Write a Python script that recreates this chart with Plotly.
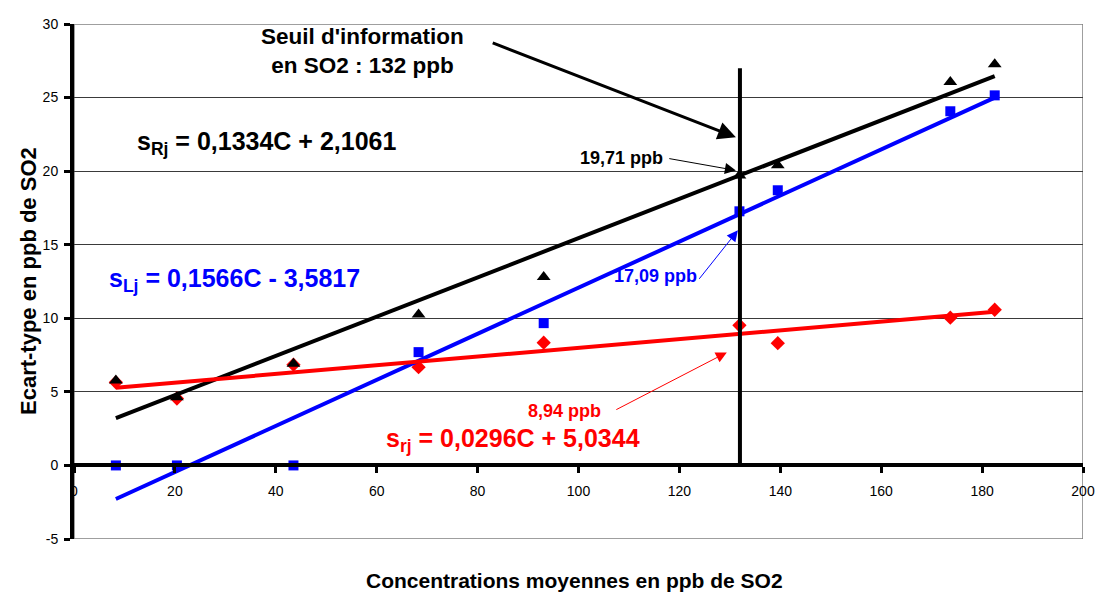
import plotly.graph_objects as go

# ---- data ----
conc = [8.3, 20.4, 43.5, 68.3, 93.1, 131.9, 139.5, 173.7, 182.5]
s_Lj = [0.0, 0.0, 0.0, 7.70, 9.67, 17.27, 18.7, 24.07, 25.15]
s_Rj = [5.78, 4.64, 6.91, 10.26, 12.8, 19.7, 20.4, 26.06, 27.26]
s_rj = [5.65, 4.55, 6.85, 6.68, 8.34, 9.52, 8.31, 10.04, 10.58]

trend_names = ["Rj", "Lj", "rj"]
slopes = [0.1334, 0.1566, 0.0296]
intercepts = [2.1061, -3.5817, 5.0344]
colors = ["#000000", "#0000FF", "#FF0000"]

threshold = 132
threshold_top = 27

x_ticks = [0, 20, 40, 60, 80, 100, 120, 140, 160, 180, 200]
y_ticks = [-5, 0, 5, 10, 15, 20, 25, 30]

FONT = "Liberation Sans, Arial, sans-serif"

fig = go.Figure()

# markers
fig.add_trace(go.Scatter(x=conc, y=s_rj, mode="markers",
                         marker=dict(symbol="diamond", size=11, color="#FF0000"),
                         showlegend=False))
fig.add_trace(go.Scatter(x=conc, y=s_Lj, mode="markers",
                         marker=dict(symbol="square", size=10, color="#0000FF"),
                         showlegend=False))
fig.add_trace(go.Scatter(x=conc, y=s_Rj, mode="markers",
                         marker=dict(symbol="triangle-up", size=12, color="#000000"),
                         showlegend=False))

# trend lines
xmin, xmax = min(conc), max(conc)
for name, a, b, c in zip(trend_names, slopes, intercepts, colors):
    fig.add_trace(go.Scatter(x=[xmin, xmax], y=[a * xmin + b, a * xmax + b],
                             mode="lines", line=dict(color=c, width=4),
                             showlegend=False))

# threshold vertical line
fig.add_trace(go.Scatter(x=[threshold, threshold], y=[0, threshold_top], mode="lines",
                         line=dict(color="#000000", width=4), showlegend=False))

def fmt(v, nd):
    return f"{v:.{nd}f}".replace(".", ",")

annotations = []

# equations
eq_pos = {"Rj": (12.1, 21.9), "Lj": (6.5, 12.6), "rj": (61.4, 1.7)}
for name, a, b, c in zip(trend_names, slopes, intercepts, colors):
    sign = "+" if b >= 0 else "-"
    txt = f"<b>s<sub>{name}</sub> = {fmt(a, 4)}C {sign} {fmt(abs(b), 4)}</b>"
    x, y = eq_pos[name]
    annotations.append(dict(x=x, y=y, xref="x", yref="y", text=txt, showarrow=False,
                            xanchor="left", yanchor="middle",
                            font=dict(family=FONT, size=25, color=c)))

# values at threshold
val_pos = {"Rj": (108.6, 20.87), "Lj": (115.2, 12.85), "rj": (97.3, 3.67)}
arrow_pts = {"Rj": ((117.7, 20.87), (131.2, 20.05)),
             "Lj": ((123.7, 12.58), (131.6, 15.98)),
             "rj": ((107.2, 3.74), (129.4, 7.68))}
for name, a, b, c in zip(trend_names, slopes, intercepts, colors):
    v = a * threshold + b
    x, y = val_pos[name]
    annotations.append(dict(x=x, y=y, xref="x", yref="y", text=f"<b>{fmt(v, 2)} ppb</b>",
                            showarrow=False, xanchor="center", yanchor="middle",
                            font=dict(family=FONT, size=18, color=c)))
    (tx, ty), (hx, hy) = arrow_pts[name]
    annotations.append(dict(x=hx, y=hy, ax=tx, ay=ty, xref="x", yref="y",
                            axref="x", ayref="y", text="", showarrow=True,
                            arrowhead=2, arrowsize=2.2, arrowwidth=1, arrowcolor=c,
                            standoff=0, startstandoff=0))

# threshold label
annotations.append(dict(x=57.1, y=28.18, xref="x", yref="y",
                        text=f"<b>Seuil d'information<br>en SO2 : {threshold} ppb</b>",
                        showarrow=False, xanchor="center", yanchor="middle",
                        font=dict(family=FONT, size=22.5, color="#000000")))
annotations.append(dict(x=131.2, y=22.3, ax=82.7, ay=28.76, xref="x", yref="y",
                        axref="x", ayref="y", text="", showarrow=True,
                        arrowhead=2, arrowsize=1.2, arrowwidth=3, arrowcolor="#000000",
                        standoff=0, startstandoff=0))

# axis titles
annotations.append(dict(x=0.4965, y=-0.08, xref="paper", yref="paper",
                        text="<b>Concentrations moyennes en ppb de SO2</b>",
                        showarrow=False, xanchor="center", yanchor="middle",
                        font=dict(family=FONT, size=21, color="#000000")))
annotations.append(dict(x=-0.0446, y=0.501, xref="paper", yref="paper",
                        text="<b>Ecart-type en ppb de SO2</b>", textangle=-90,
                        showarrow=False, xanchor="center", yanchor="middle",
                        font=dict(family=FONT, size=22, color="#000000")))

fig.update_layout(
    width=1096, height=595,
    margin=dict(l=74, r=13, t=24, b=56, autoexpand=False),
    plot_bgcolor="#FFFFFF", paper_bgcolor="#FFFFFF",
    font=dict(family=FONT, size=13, color="#000000"),
    annotations=annotations,
    shapes=[dict(type="rect", xref="x", yref="y", x0=0, x1=200, y0=-5, y1=30,
                 line=dict(color="#808080", width=1.5), layer="below")],
    xaxis=dict(range=[0, 200], tickvals=x_ticks, ticktext=[str(t) for t in x_ticks],
               showgrid=False, zeroline=False, showline=True, linewidth=4,
               linecolor="#000000", ticks="outside", ticklen=6, tickwidth=3,
               tickcolor="#000000", anchor="free", position=5 / 35,
               automargin=False, ticklabelstandoff=6,
               tickfont=dict(family=FONT, size=14, color="#000000")),
    yaxis=dict(range=[-5, 30], tickvals=y_ticks, ticktext=[str(t) for t in y_ticks],
               domain=[0, 1], showgrid=True, gridcolor="#3a3a3a", gridwidth=1,
               zeroline=False, showline=True, linewidth=4, linecolor="#000000",
               ticks="outside", ticklen=6, tickwidth=3, tickcolor="#000000",
               automargin=False, ticklabelstandoff=3,
               tickfont=dict(family=FONT, size=14, color="#000000")),
)

fig.write_html("out.html")
